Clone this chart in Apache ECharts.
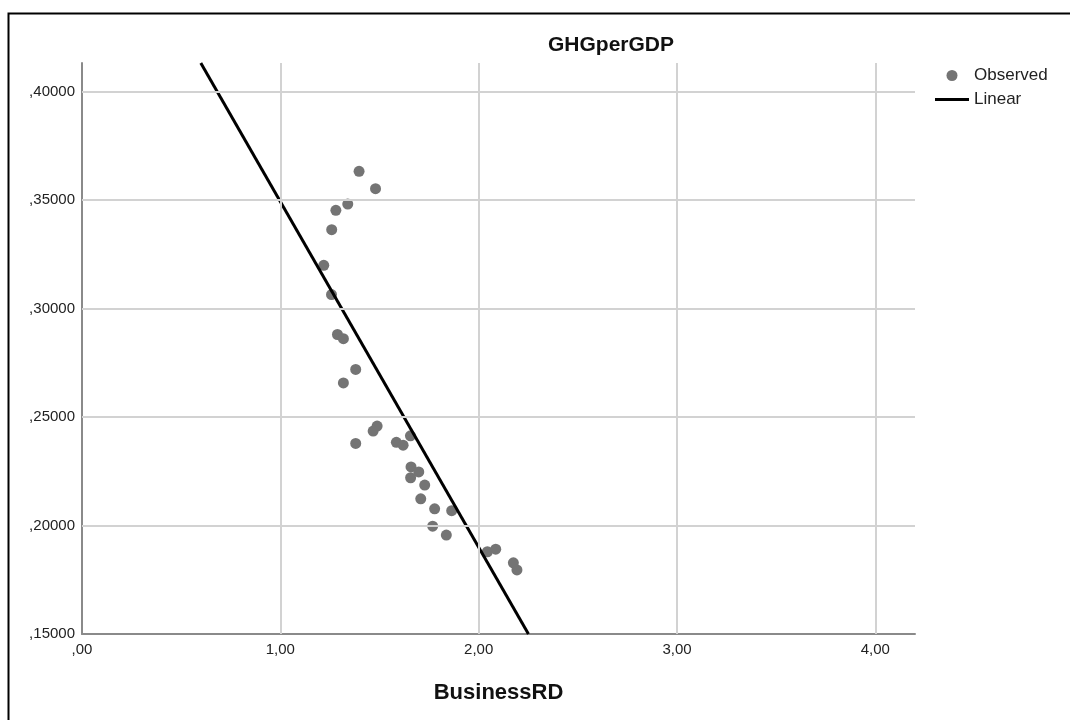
<!DOCTYPE html>
<html>
<head>
<meta charset="utf-8">
<script src="https://cdn.jsdelivr.net/npm/echarts@6/dist/echarts.min.js"></script>
<style>
html,body{margin:0;padding:0;background:#fff;}
#chart{width:1070px;height:720px;}
</style>
</head>
<body>
<div id="chart"></div>
<script>
// Observed points (BusinessRD, GHGperGDP)
const businessRD = [1.397,1.480,1.340,1.280,1.259,1.219,1.258,1.288,1.318,1.380,1.318,1.488,1.468,1.380,1.585,1.619,1.656,1.659,1.698,1.657,1.728,1.708,1.778,1.864,1.768,1.837,2.044,2.086,2.175,2.193];
const ghgPerGDP  = [0.3632,0.3552,0.3481,0.3452,0.3363,0.3199,0.3064,0.2880,0.2861,0.2719,0.2657,0.2458,0.2435,0.2378,0.2383,0.2370,0.2413,0.2270,0.2247,0.2220,0.2186,0.2123,0.2077,0.2068,0.1997,0.1956,0.1879,0.1891,0.1828,0.1795];
// Linear fit line endpoints
const linearX = [0.599, 2.251];
const linearY = [0.4131, 0.15];
// Ticks and labels
const xTicks = [0, 1, 2, 3, 4];
const xTickLabels = [',00', '1,00', '2,00', '3,00', '4,00'];
const yTicks = [0.15, 0.20, 0.25, 0.30, 0.35, 0.40];
const yTickLabels = [',15000', ',20000', ',25000', ',30000', ',35000', ',40000'];

const observed = businessRD.map((x, i) => [x, ghgPerGDP[i]]);
const linear = linearX.map((x, i) => [x, linearY[i]]);

function lookup(ticks, labels, v) {
  for (let i = 0; i < ticks.length; i++) if (Math.abs(ticks[i] - v) < 1e-6) return labels[i];
  return '';
}
const FONT = 'Liberation Sans, Arial, sans-serif';
const gridLines = [];
xTicks.slice(1).forEach(v => gridLines.push({ xAxis: v }));
yTicks.slice(1).forEach(v => gridLines.push({ yAxis: v }));

const chart = echarts.init(document.getElementById('chart'), null, { renderer: 'canvas' });
chart.setOption({
  animation: false,
  backgroundColor: '#fff',
  title: {
    text: 'GHGperGDP', left: 611, top: 35, textAlign: 'center', padding: 0,
    textStyle: { fontFamily: FONT, fontSize: 21, fontWeight: 'bold', color: '#111' }
  },
  legend: {
    data: [
      { name: 'Observed', icon: 'circle' },
      { name: 'Linear', icon: 'path://M0,0H34V3H0Z' }
    ],
    orient: 'vertical', left: 930, top: 62,
    itemWidth: 34, itemHeight: 11, itemGap: 7, symbolKeepAspect: true,
    textStyle: { fontFamily: FONT, fontSize: 17, color: '#222' }
  },
  grid: { left: 82, right: 155, top: 63, bottom: 86, containLabel: false },
  xAxis: {
    type: 'value', min: 0, max: 4.2, interval: 1,
    name: 'BusinessRD', nameLocation: 'middle', nameGap: 48,
    nameTextStyle: { fontFamily: FONT, fontSize: 22, fontWeight: 'bold', color: '#111' },
    axisLine: { show: true, onZero: false, lineStyle: { color: '#8a8a8a', width: 2 } },
    axisTick: { show: false },
    splitLine: { show: false },
    axisLabel: { fontFamily: FONT, fontSize: 15, color: '#222', margin: 8, showMaxLabel: false,
      formatter: v => lookup(xTicks, xTickLabels, v) }
  },
  yAxis: {
    type: 'value', min: 0.15, max: 0.4131, interval: 0.05,
    axisLine: { show: true, onZero: false, lineStyle: { color: '#8a8a8a', width: 2 } },
    axisTick: { show: false },
    splitLine: { show: false },
    axisLabel: { fontFamily: FONT, fontSize: 15, color: '#222', margin: 7, showMaxLabel: false,
      formatter: v => lookup(yTicks, yTickLabels, v) }
  },
  graphic: [{
    type: 'rect', silent: true, z: 100,
    shape: { x: 8.5, y: 13.5, width: 1200, height: 800 },
    style: { fill: 'none', stroke: '#000', lineWidth: 2 }
  }],
  series: [
    {
      name: '_grid', type: 'scatter', data: [], silent: true,
      markLine: {
        silent: true, symbol: ['none', 'none'], animation: false,
        label: { show: false },
        lineStyle: { color: '#d2d2d2', width: 2, type: 'solid' },
        emphasis: { disabled: true },
        data: gridLines
      }
    },
    {
      name: 'Observed', type: 'scatter', data: observed, symbol: 'circle', symbolSize: 11,
      itemStyle: { color: '#747474', opacity: 1 }, z: 3
    },
    {
      name: 'Linear', type: 'line', data: linear, symbol: 'none', showSymbol: false,
      lineStyle: { color: '#000', width: 3 }, itemStyle: { color: '#000' }, clip: true, z: 4
    }
  ]
});
</script>
</body>
</html>
